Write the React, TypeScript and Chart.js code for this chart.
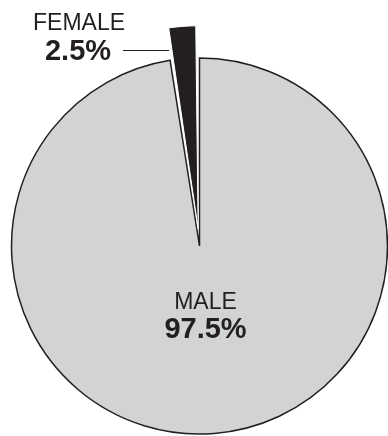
import React, { useEffect, useRef } from "react";
import { Chart, registerables } from "chart.js";

Chart.register(...registerables);

const categories = ["MALE", "FEMALE"];
const values = [97.5, 2.5];
const percentLabels = ["97.5%", "2.5%"];
const fillColors = ["#d1d3d4", "#231f20"];
const borderColors = ["#231f20", "#ffffff"];
const borderWidths = [1.5, 1];
const offsets = [0, 70];

const labelPlugin = {
  id: "pieLabels",
  afterDraw(chart: any) {
    const ctx = chart.ctx;
    const meta = chart.getDatasetMeta(0);
    const male = meta.data[0];
    const cx = male.x;
    const cy = male.y;
    ctx.save();
    ctx.fillStyle = "#231f20";
    ctx.textAlign = "center";
    ctx.textBaseline = "alphabetic";
    ctx.font = "23px Arial, 'Liberation Sans', sans-serif";
    ctx.fillText(categories[0], cx + 6, cy + 63);
    ctx.font = "bold 29px Arial, 'Liberation Sans', sans-serif";
    ctx.fillText(percentLabels[0], cx + 6, cy + 92);
    ctx.font = "23px Arial, 'Liberation Sans', sans-serif";
    ctx.fillText(categories[1], 79, 30);
    ctx.font = "bold 29px Arial, 'Liberation Sans', sans-serif";
    ctx.fillText(percentLabels[1], 78, 60);
    ctx.strokeStyle = "#231f20";
    ctx.lineWidth = 1;
    ctx.beginPath();
    ctx.moveTo(123, 50.5);
    ctx.lineTo(169, 50.5);
    ctx.stroke();
    ctx.restore();
  },
};

export default function App() {
  const ref = useRef<HTMLCanvasElement>(null);
  useEffect(() => {
    if (!ref.current) return;
    const chart = new Chart(ref.current, {
      type: "pie",
      data: {
        labels: categories,
        datasets: [
          {
            data: values,
            backgroundColor: fillColors,
            borderColor: borderColors,
            borderWidth: borderWidths,
            offset: offsets,
            borderJoinStyle: "miter",
          } as any,
        ],
      },
      options: {
        responsive: false,
        animation: false,
        devicePixelRatio: 1,
        radius: 188,
        layout: { padding: { left: 11, right: 0, top: 56, bottom: 0 } },
        plugins: {
          legend: { display: false },
          tooltip: { enabled: false },
        },
      } as any,
      plugins: [labelPlugin],
    });
    return () => chart.destroy();
  }, []);
  return (
    <div style={{ position: "absolute", left: 0, top: 0, width: 388, height: 436, background: "#fff" }}>
      <canvas ref={ref} width={388} height={436} />
    </div>
  );
}
